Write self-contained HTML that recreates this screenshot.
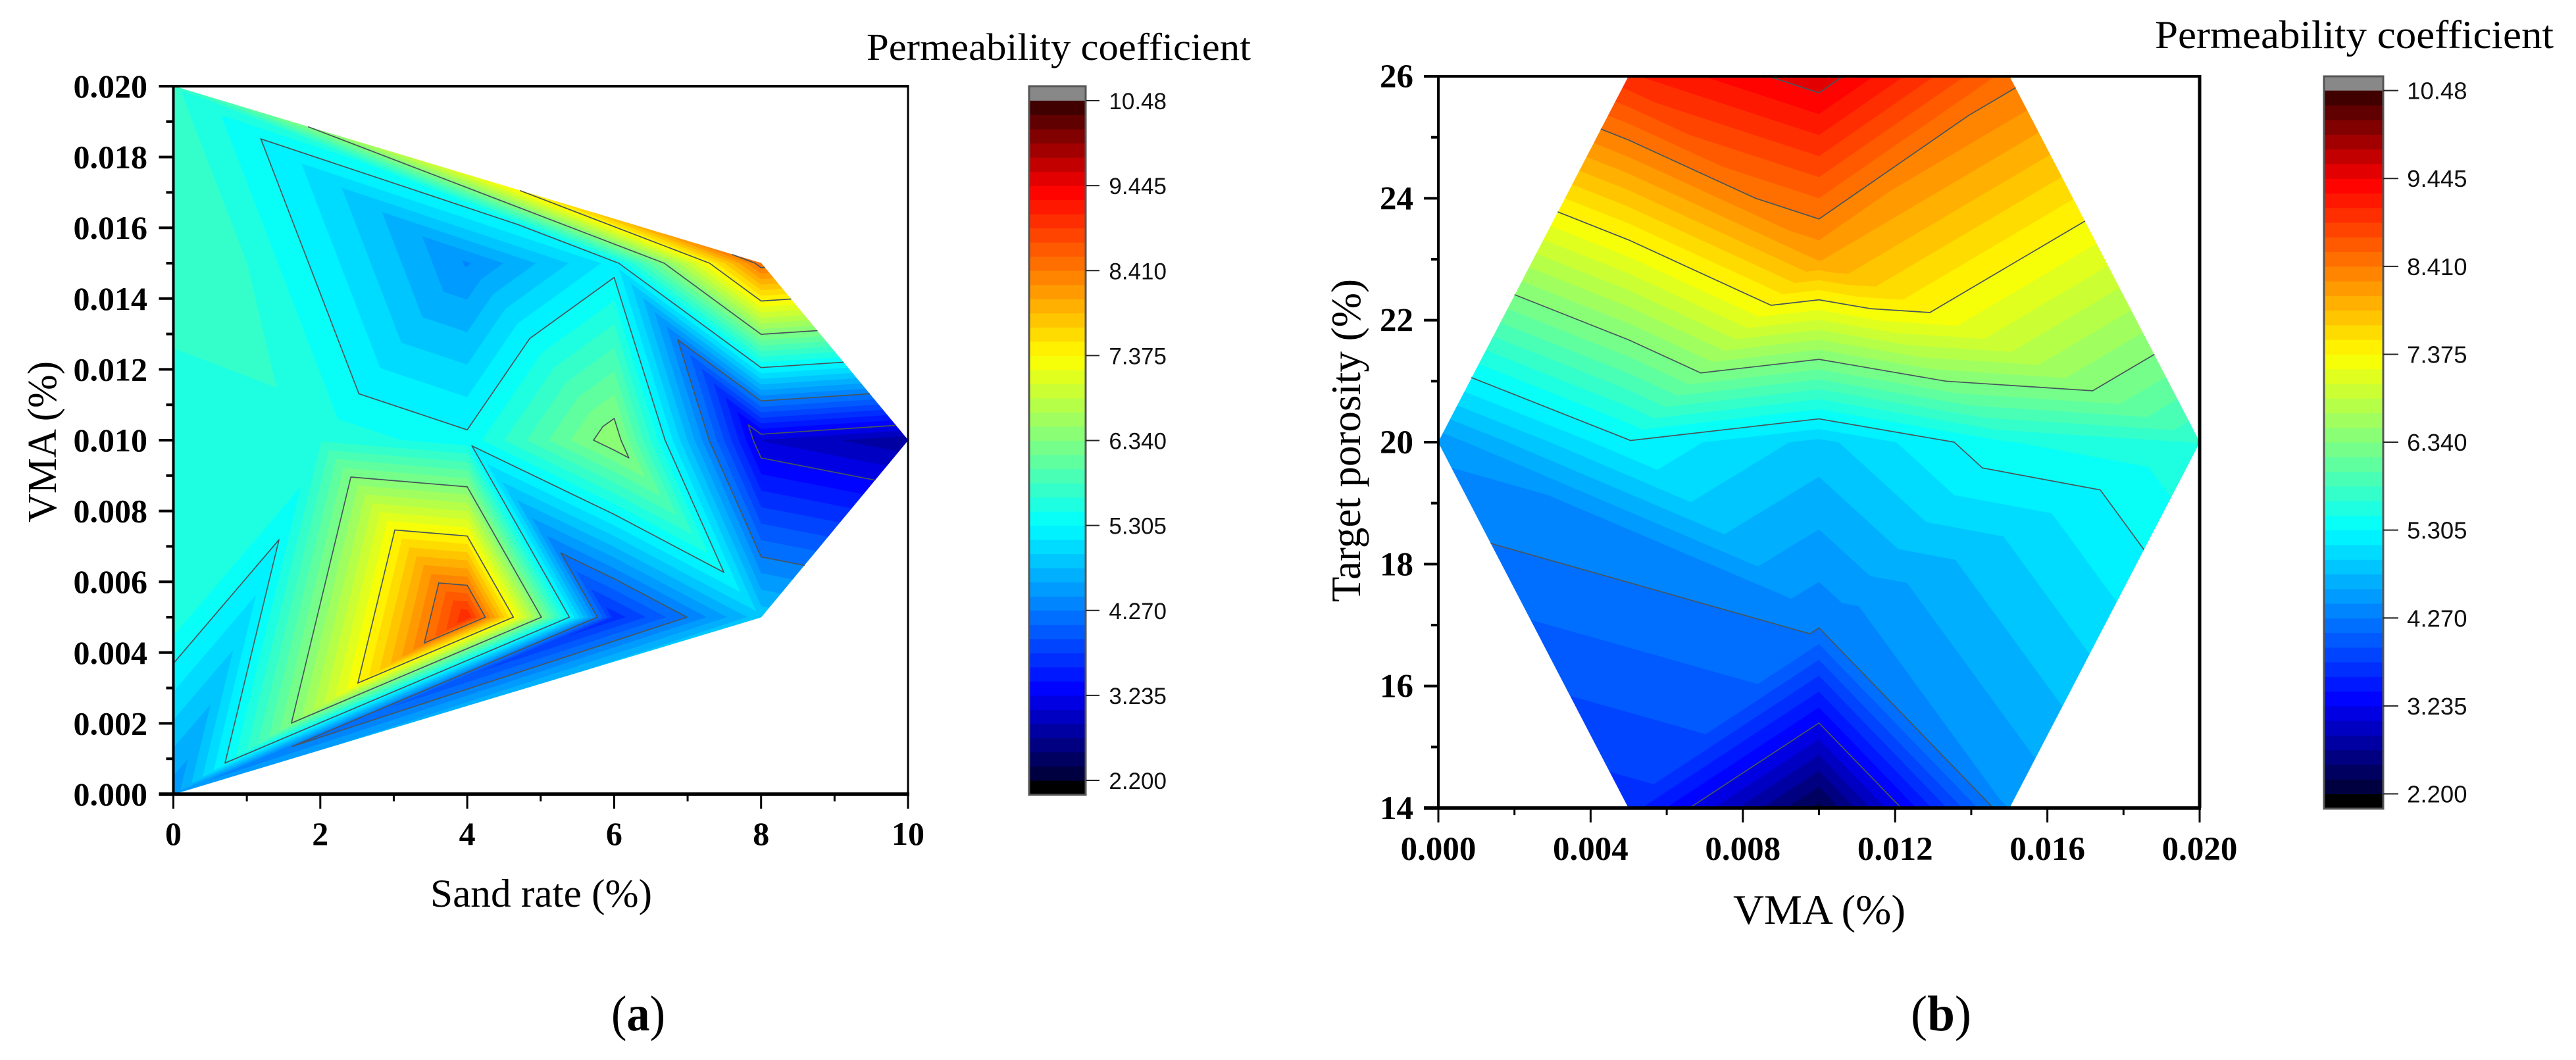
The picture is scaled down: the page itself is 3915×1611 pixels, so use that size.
<!DOCTYPE html>
<html lang="en">
<head>
<meta charset="utf-8">
<title>Permeability coefficient contour maps</title>
<style>
html,body{margin:0;padding:0;background:#fff;}
svg{display:block;}
.serif{font-family:"Liberation Serif",serif;fill:#000;}
.sans{font-family:"Liberation Sans",sans-serif;fill:#111;}
</style>
</head>
<body>
<svg id="figure" xmlns="http://www.w3.org/2000/svg" width="3915" height="1611" viewBox="0 0 3915 1611">
  <rect x="0" y="0" width="3915" height="1611" fill="#ffffff"/>
  <g id="panel-a"></g>
  <g id="panel-b"></g>

  <text class="serif" x="654" y="1378" font-size="60" textLength="337" lengthAdjust="spacingAndGlyphs">Sand rate (%)</text>
  <text class="serif" transform="translate(85,794) rotate(-90)" font-size="62" textLength="245" lengthAdjust="spacingAndGlyphs">VMA (%)</text>
  <text class="serif" x="1317" y="91" font-size="58" textLength="584" lengthAdjust="spacingAndGlyphs">Permeability coefficient</text>
  <text class="serif" x="929" y="1566" font-size="76" textLength="82" lengthAdjust="spacingAndGlyphs">(<tspan font-weight="bold">a</tspan>)</text>

  <text class="serif" x="2634" y="1404" font-size="63" textLength="262" lengthAdjust="spacingAndGlyphs">VMA (%)</text>
  <text class="serif" transform="translate(2067,915) rotate(-90)" font-size="63" textLength="491" lengthAdjust="spacingAndGlyphs">Target porosity (%)</text>
  <text class="serif" x="3275" y="73" font-size="60" textLength="606" lengthAdjust="spacingAndGlyphs">Permeability coefficient</text>
  <text class="serif" x="2904" y="1566" font-size="76" textLength="92" lengthAdjust="spacingAndGlyphs">(<tspan font-weight="bold">b</tspan>)</text>
</svg>

<script>
// ---- Panel (a): sand rate / VMA mesh nodes ----
const aNodeSand = [0, 0, 0, 0, 0, 2, 4, 4, 4, 6, 6, 6, 8, 8, 8, 10];
const aNodeVma = [0, 0.005, 0.01, 0.015, 0.02, 0.01, 0.005, 0.01, 0.015, 0.005, 0.01, 0.015, 0.005, 0.01, 0.015, 0.01];
const aNodePermeability = [4.5, 5.59, 5.574, 5.72, 5.68, 5.62, 9.08, 5.36, 4.42, 3.65, 6.5, 5.2, 4.9, 3.05, 8.55, 2.75];
const aMeshTriangles = [[0,1,5],[1,2,5],[2,3,5],[3,4,5],[4,8,5],[0,6,5],[5,6,7],[7,6,9],[0,6,9],[0,9,12],[7,9,10],[9,10,12],[10,12,13],[12,13,15],[10,11,13],[11,14,13],[14,13,15],[8,11,10],[8,10,7],[8,7,5],[4,8,11],[4,11,14]];
const aXTickLabels = ['0', '2', '4', '6', '8', '10'];
const aYTickLabels = ['0.000', '0.002', '0.004', '0.006', '0.008', '0.010', '0.012', '0.014', '0.016', '0.018', '0.020'];

// ---- Panel (b): VMA / target porosity mesh nodes ----
const bNodeVma = [0, 0.005, 0.01, 0.015, 0.02, 0.015, 0.01, 0.005, 0.005, 0.01, 0.015, 0.01, 0.01];
const bNodePorosity = [20, 14, 14, 14, 20, 26, 26, 26, 20, 20, 20, 23, 17];
const bNodePermeability = [4.5, 3.67, 2.31, 4.45, 5.66, 8.5, 9.58, 9.07, 5.28, 4.9, 5.47, 8.08, 4.3];
const bMeshTriangles = [[0,8,7],[0,8,12],[0,12,1],[1,12,2],[2,12,3],[3,12,4],[12,10,4],[12,9,10],[12,8,9],[8,9,11],[9,10,11],[10,4,11],[4,11,5],[5,6,11],[6,7,11],[7,8,11]];
const bXTickLabels = ['0.000', '0.004', '0.008', '0.012', '0.016', '0.020'];
const bYTickLabels = ['14', '16', '18', '20', '22', '24', '26'];

// ---- Shared colour scale ----
const colorbarTickLabels = ['2.200', '3.235', '4.270', '5.305', '6.340', '7.375', '8.410', '9.445', '10.48'];
const colorLevelMin = [2.2];
const colorLevelMax = [10.48];
const colorBandCount = [48];

const SVGNS = 'http://www.w3.org/2000/svg';

function make(parent, tag, attrs, text) {
  const el = document.createElementNS(SVGNS, tag);
  for (const k in attrs) el.setAttribute(k, attrs[k]);
  if (text !== undefined) el.textContent = text;
  parent.appendChild(el);
  return el;
}

function linearScale(d0, d1, r0, r1) {
  return function (v) { return r0 + (v - d0) / (d1 - d0) * (r1 - r0); };
}

function bandColor(k) {
  const t = k / (colorBandCount[0] - 1);
  const clamp = function (v) { return Math.max(0, Math.min(1, v)); };
  let r = clamp((t - 0.375) * 4), g = 0, b = 0;
  if (t < 0.625) g = clamp((t - 0.125) * 4); else g = clamp((0.875 - t) * 4);
  b = t < 0.125 ? 1 : clamp((0.625 - t) * 4);
  let red = r * 255, blue = b * 255;
  if (t < 0.125) blue = 64 + t / 0.125 * 191;
  if (t > 0.875) red = 64 + (1 - t) / 0.125 * 191;
  return 'rgb(' + Math.round(red) + ',' + Math.round(g * 255) + ',' + Math.round(blue) + ')';
}

function clipByValue(poly, level, keepAbove) {
  const out = [];
  for (let i = 0; i < poly.length; i++) {
    const p = poly[i], q = poly[(i + 1) % poly.length];
    const pIn = keepAbove ? p[2] >= level : p[2] <= level;
    const qIn = keepAbove ? q[2] >= level : q[2] <= level;
    if (pIn) out.push(p);
    if (pIn !== qIn) {
      const t = (level - p[2]) / (q[2] - p[2]);
      out.push([p[0] + t * (q[0] - p[0]), p[1] + t * (q[1] - p[1]), level]);
    }
  }
  return out;
}

function drawContours(group, nodeX, nodeY, nodeZ, triangles, sx, sy) {
  const step = (colorLevelMax[0] - colorLevelMin[0]) / colorBandCount[0];
  for (let k = -1; k <= colorBandCount[0]; k++) {
    const lo = colorLevelMin[0] + k * step, hi = lo + step;
    let d = '';
    triangles.forEach(function (tri) {
      let poly = tri.map(function (i) { return [sx(nodeX[i]), sy(nodeY[i]), nodeZ[i]]; });
      if (k >= 0) poly = clipByValue(poly, lo, true);
      if (poly.length && k < colorBandCount[0]) poly = clipByValue(poly, hi, false);
      if (poly.length > 2) {
        d += 'M' + poly.map(function (p) { return p[0].toFixed(2) + ' ' + p[1].toFixed(2); }).join('L') + 'Z';
      }
    });
    if (d) {
      const fillColor = k < 0 ? '#000000' : (k >= colorBandCount[0] ? '#888888' : bandColor(k));
      const band = make(group, 'path', { d: d, fill: fillColor, stroke: fillColor, 'stroke-width': 0.7, 'stroke-linejoin': 'round' });
      
      
    }
  }
  for (let k = 6; k < colorBandCount[0]; k += 6) {
    const level = colorLevelMin[0] + k * step;
    let d = '';
    triangles.forEach(function (tri) {
      const pts = [];
      for (let e = 0; e < 3; e++) {
        const i = tri[e], j = tri[(e + 1) % 3];
        const vi = nodeZ[i], vj = nodeZ[j];
        if ((vi - level) * (vj - level) < 0) {
          const t = (level - vi) / (vj - vi);
          pts.push([sx(nodeX[i] + t * (nodeX[j] - nodeX[i])), sy(nodeY[i] + t * (nodeY[j] - nodeY[i]))]);
        }
      }
      if (pts.length === 2) {
        d += 'M' + pts[0][0].toFixed(2) + ' ' + pts[0][1].toFixed(2) + 'L' + pts[1][0].toFixed(2) + ' ' + pts[1][1].toFixed(2);
      }
    });
    if (d) {
      const line = make(group, 'path', { d: d, fill: 'none', stroke: '#47555c', 'stroke-width': 1.7, 'stroke-linecap': 'round' });
      
      
    }
  }
}

function drawAxes(group, box, xLabels, yLabels, sx, sy, opt) {
  const frame = make(group, 'path', { d: 'M' + box.x0 + ' ' + box.y1 + 'V' + box.y0 + 'H' + box.x1, fill: 'none', stroke: '#000', 'stroke-width': 4 });
  
  
  const rightSpine = make(group, 'line', { x1: box.x1, x2: box.x1, y1: box.y0 - 2, y2: box.y1, stroke: '#000', 'stroke-width': opt.rightWidth });
  
  
  const bottomSpine = make(group, 'line', { x1: box.x0 - opt.tick, x2: box.x1 + 2, y1: box.y1, y2: box.y1, stroke: '#000', 'stroke-width': 5.5 });
  
  

  const xv = xLabels.map(Number), yv = yLabels.map(Number);
  xv.forEach(function (v, i) {
    const px = sx(v);
    const tick = make(group, 'line', { x1: px, x2: px, y1: box.y1, y2: box.y1 + opt.tick, stroke: '#000', 'stroke-width': 3 });
    
    
    const label = make(group, 'text', { x: px, y: opt.xLabelY, 'text-anchor': 'middle', 'font-size': opt.tickFont, 'font-weight': 'bold', class: 'serif' }, xLabels[i]);
    
    
    if (i < xv.length - 1) {
      const mx = sx((v + xv[i + 1]) / 2);
      const minor = make(group, 'line', { x1: mx, x2: mx, y1: box.y1, y2: box.y1 + opt.tick / 2, stroke: '#000', 'stroke-width': 3 });
      
      
    }
  });
  yv.forEach(function (v, i) {
    const py = sy(v);
    const tick = make(group, 'line', { x1: box.x0 - opt.tick, x2: box.x0, y1: py, y2: py, stroke: '#000', 'stroke-width': 4 });
    
    
    const label = make(group, 'text', { x: opt.yLabelX, y: py + 17, 'text-anchor': 'end', 'font-size': opt.tickFont, 'font-weight': 'bold', class: 'serif' }, yLabels[i]);
    
    
    if (i < yv.length - 1) {
      const my = sy((v + yv[i + 1]) / 2);
      const minor = make(group, 'line', { x1: box.x0 - opt.tick / 2, x2: box.x0, y1: my, y2: my, stroke: '#000', 'stroke-width': 4 });
      
      
    }
  });
}

function drawColorbar(group, bar) {
  const sv = linearScale(colorLevelMin[0], colorLevelMax[0], bar.yMin, bar.yMax);
  const step = (colorLevelMax[0] - colorLevelMin[0]) / colorBandCount[0];
  const over = make(group, 'rect', { x: bar.x0, y: bar.top, width: bar.x1 - bar.x0, height: bar.yMax - bar.top, fill: '#888888' });
  
  
  const under = make(group, 'rect', { x: bar.x0, y: bar.yMin, width: bar.x1 - bar.x0, height: bar.bottom - bar.yMin, fill: '#000000' });
  
  
  for (let k = 0; k < colorBandCount[0]; k++) {
    const yTop = sv(colorLevelMin[0] + (k + 1) * step), yBot = sv(colorLevelMin[0] + k * step);
    const cell = make(group, 'rect', { x: bar.x0, y: yTop, width: bar.x1 - bar.x0, height: yBot - yTop + 0.5, fill: bandColor(k) });
    
    
  }
  const outline = make(group, 'rect', { x: bar.x0, y: bar.top, width: bar.x1 - bar.x0, height: bar.bottom - bar.top, fill: 'none', stroke: '#555', 'stroke-width': 3 });
  
  
  colorbarTickLabels.forEach(function (lab) {
    const py = sv(Number(lab));
    const tick = make(group, 'line', { x1: bar.x1, x2: bar.tickEnd, y1: py, y2: py, stroke: '#222', 'stroke-width': 2 });
    
    
    const label = make(group, 'text', { x: bar.labelX, y: py + 13, 'text-anchor': 'end', 'font-size': bar.font, class: 'sans' }, lab);
    
    
  });
}

// Panel (a)
(function () {
  const group = document.getElementById('panel-a');
  const box = { x0: 263.5, x1: 1380, y0: 131, y1: 1207 };
  const sx = linearScale(0, 10, box.x0, box.x1);
  const sy = linearScale(0, 0.02, box.y1, box.y0);
  drawContours(group, aNodeSand, aNodeVma, aNodePermeability, aMeshTriangles, sx, sy);
  drawAxes(group, box, aXTickLabels, aYTickLabels, sx, sy, { tick: 22, tickFont: 50, xLabelY: 1284, yLabelX: 224, rightWidth: 3 });
  drawColorbar(group, { x0: 1564, x1: 1650, top: 131, bottom: 1208, yMin: 1186, yMax: 153, tickEnd: 1671, labelX: 1773, font: 35 });
})();

// Panel (b)
(function () {
  const group = document.getElementById('panel-b');
  const box = { x0: 2186, x1: 3343, y0: 116, y1: 1228 };
  const sx = linearScale(0, 0.02, box.x0, box.x1);
  const sy = linearScale(14, 26, box.y1, box.y0);
  drawContours(group, bNodeVma, bNodePorosity, bNodePermeability, bMeshTriangles, sx, sy);
  drawAxes(group, box, bXTickLabels, bYTickLabels, sx, sy, { tick: 22, tickFont: 51, xLabelY: 1307, yLabelX: 2148, rightWidth: 5 });
  drawColorbar(group, { x0: 3532, x1: 3622, top: 116, bottom: 1229, yMin: 1206.5, yMax: 137.6, tickEnd: 3645, labelX: 3749.5, font: 36.5 });
})();
</script>
</body>
</html>
